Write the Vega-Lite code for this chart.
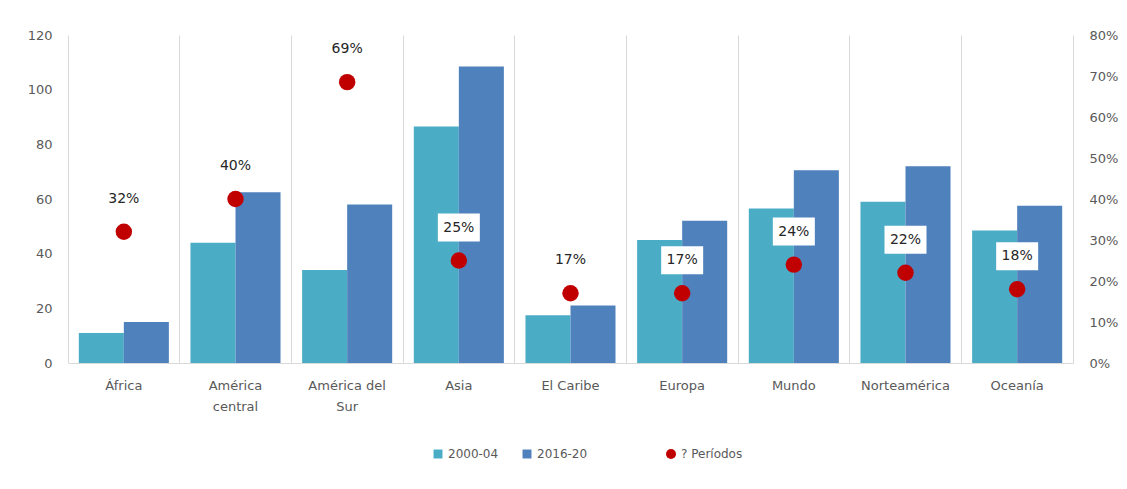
{
  "$schema": "https://vega.github.io/schema/vega-lite/v6.json",
  "autosize": {"type": "none"},
  "width": 1005,
  "height": 328,
  "padding": {"left": 68, "top": 35, "right": 54, "bottom": 126},
  "background": "white",
  "config": {
    "view": {"stroke": null},
    "font": "DejaVu Sans",
    "axis": {"labelColor": "#595959", "labelFontSize": 13, "ticks": false, "domainColor": "#D9D9D9", "gridColor": "#D9D9D9", "title": null},
    "legend": {"labelColor": "#595959", "labelFontSize": 12}
  },
  "datasets": {
    "bars": [
      {"region": "África", "period": "2000-04", "value": 11},
      {"region": "África", "period": "2016-20", "value": 15},
      {"region": "América central", "period": "2000-04", "value": 44},
      {"region": "América central", "period": "2016-20", "value": 62.5},
      {"region": "América del Sur", "period": "2000-04", "value": 34},
      {"region": "América del Sur", "period": "2016-20", "value": 58},
      {"region": "Asia", "period": "2000-04", "value": 86.5},
      {"region": "Asia", "period": "2016-20", "value": 108.5},
      {"region": "El Caribe", "period": "2000-04", "value": 17.5},
      {"region": "El Caribe", "period": "2016-20", "value": 21},
      {"region": "Europa", "period": "2000-04", "value": 45},
      {"region": "Europa", "period": "2016-20", "value": 52},
      {"region": "Mundo", "period": "2000-04", "value": 56.5},
      {"region": "Mundo", "period": "2016-20", "value": 70.5},
      {"region": "Norteamérica", "period": "2000-04", "value": 59},
      {"region": "Norteamérica", "period": "2016-20", "value": 72},
      {"region": "Oceanía", "period": "2000-04", "value": 48.5},
      {"region": "Oceanía", "period": "2016-20", "value": 57.5}
    ],
    "pct": [
      {"region": "África", "pct": 0.32},
      {"region": "América central", "pct": 0.40},
      {"region": "América del Sur", "pct": 0.685},
      {"region": "Asia", "pct": 0.25},
      {"region": "El Caribe", "pct": 0.17},
      {"region": "Europa", "pct": 0.17},
      {"region": "Mundo", "pct": 0.24},
      {"region": "Norteamérica", "pct": 0.22},
      {"region": "Oceanía", "pct": 0.18}
    ]
  },
  "layer": [
    {
      "data": {"name": "bars"},
      "mark": {"type": "bar"},
      "encoding": {
        "x": {
          "field": "region", "type": "nominal", "sort": null,
          "scale": {"paddingInner": 0, "paddingOuter": 0},
          "axis": {
            "labelAngle": 0, "grid": true, "bandPosition": 0, "domain": true, "labelPadding": 16, "labelLineHeight": 21,
            "labelExpr": "datum.value == 'América central' ? ['América', 'central'] : datum.value == 'América del Sur' ? ['América del', 'Sur'] : datum.value"
          }
        },
        "xOffset": {"field": "period", "sort": null, "scale": {"paddingOuter": 0.24, "paddingInner": 0}},
        "y": {
          "field": "value", "type": "quantitative",
          "scale": {"domain": [0, 120], "nice": false},
          "axis": {"values": [0, 20, 40, 60, 80, 100, 120], "domain": false, "grid": false, "labelPadding": 16}
        },
        "color": {
          "field": "period", "type": "nominal", "sort": null,
          "scale": {"range": ["#4BACC6", "#4F81BD"]},
          "legend": {"orient": "none", "legendX": 364, "legendY": 413, "direction": "horizontal", "title": null, "symbolType": "square", "symbolSize": 80, "columnPadding": 22}
        }
      }
    },
    {
      "data": {"name": "pct"},
      "layer": [
        {
          "mark": {"type": "point", "filled": true, "size": 270, "color": "#C00000", "opacity": 1},
          "encoding": {
            "x": {"field": "region", "type": "nominal", "sort": null},
            "y": {
              "field": "pct", "type": "quantitative",
              "scale": {"domain": [0, 0.8], "nice": false},
              "axis": {"orient": "right", "format": ".0%", "values": [0, 0.1, 0.2, 0.3, 0.4, 0.5, 0.6, 0.7, 0.8], "domain": true, "grid": false, "labelPadding": 16}
            },
            "shape": {
              "datum": "? Períodos",
              "scale": {"range": ["circle"]},
              "legend": {"orient": "none", "legendX": 597, "legendY": 413, "title": null, "symbolFillColor": "#C00000", "symbolStrokeColor": "#C00000", "symbolSize": 100}
            }
          }
        },
        {
          "transform": [{"filter": {"field": "region", "oneOf": ["Asia", "Europa", "Mundo", "Norteamérica", "Oceanía"]}}],
          "mark": {"type": "point", "filled": true, "shape": "M-1,-0.667L1,-0.667L1,0.667L-1,0.667Z", "size": 1764, "color": "white", "opacity": 1, "yOffset": -33},
          "encoding": {
            "x": {"field": "region", "type": "nominal", "sort": null},
            "y": {"field": "pct", "type": "quantitative"}
          }
        },
        {
          "mark": {"type": "text", "dy": -33, "fontSize": 14, "color": "#262626"},
          "encoding": {
            "x": {"field": "region", "type": "nominal", "sort": null},
            "y": {"field": "pct", "type": "quantitative"},
            "text": {"field": "pct", "type": "quantitative", "format": ".0%"}
          }
        }
      ]
    }
  ],
  "resolve": {"scale": {"y": "independent"}}
}
